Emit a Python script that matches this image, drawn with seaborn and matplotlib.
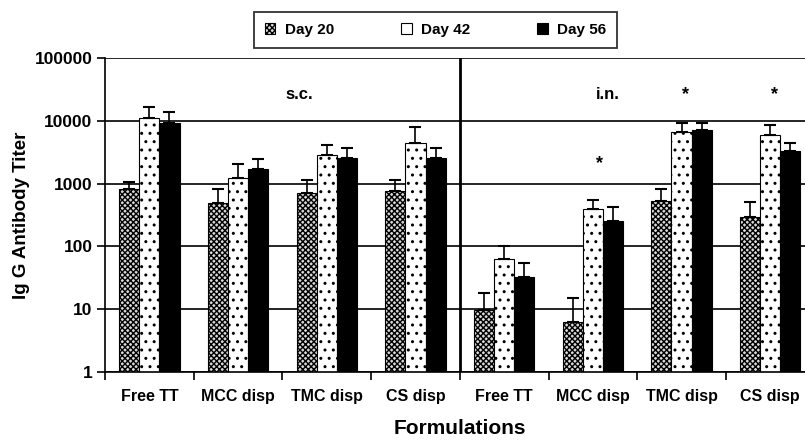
import numpy as np
import pandas as pd
import matplotlib.pyplot as plt
import seaborn as sns
from matplotlib.patches import Patch

# values
formulations = ["Free TT", "MCC disp", "TMC disp", "CS disp",
                "Free TT", "MCC disp", "TMC disp", "CS disp"]
routes = ["s.c."] * 4 + ["i.n."] * 4
days = ["Day 20", "Day 42", "Day 56"]

day20 = [835, 494, 714, 776, 9.8, 6.3, 519, 296]
day42 = [10900, 1220, 2880, 4510, 64, 387, 6680, 6030]
day56 = [9190, 1680, 2550, 2550, 33, 256, 7200, 3330]

day20_err = [1080, 835, 1140, 1140, 18.4, 15.1, 826, 513]
day42_err = [16300, 2040, 4050, 8110, 103, 546, 9060, 8630]
day56_err = [13900, 2450, 3670, 3670, 53.5, 431, 9290, 4470]

star_groups = [5.07, 6.05, 7.05]
star_values = [2090, 25900, 25900]

plt.rcParams["font.family"] = ["Liberation Sans", "DejaVu Sans"]
plt.rcParams["font.weight"] = "bold"
plt.rcParams["hatch.linewidth"] = 1.0

keys = [f"{r} {f}" for r, f in zip(routes, formulations)]
rows = []
for vals, errs, d in [(day20, day20_err, "Day 20"), (day42, day42_err, "Day 42"),
                      (day56, day56_err, "Day 56")]:
    for k, v, e in zip(keys, vals, errs):
        rows.append({"group": k, "day": d, "titer": v, "upper": e})
df = pd.DataFrame(rows)

fig = plt.figure(figsize=(8.05, 4.4), dpi=100)
ax = fig.add_axes([105 / 805, 1 - 372 / 440, 8 * 88.7 / 805, 314 / 440])
ax.set_yscale("log")

sns.barplot(data=df, x="group", y="titer", hue="day", order=keys, hue_order=days,
            palette=["#d8d8d8", "white", "black"], width=0.68, gap=0,
            edgecolor="black", linewidth=0.8, errorbar=None, legend=False, ax=ax)

hatches = ["xxxxxx", "..", ""]
for cont, h, d in zip(ax.containers, hatches, days):
    sub = df[df["day"] == d].set_index("group").loc[keys]
    xs = []
    for bar in cont:
        bar.set_hatch(h)
        xs.append(bar.get_x() + bar.get_width() / 2)
    vals = sub["titer"].values
    upper = sub["upper"].values - vals
    ax.errorbar(xs, vals, yerr=[np.zeros_like(vals), upper], fmt="none",
                ecolor="black", elinewidth=1.2, capsize=4, capthick=1.5, zorder=1)

ax.set_ylim(1, 100000)
ax.set_xlim(-0.5, 7.5)
ax.set_yticks([1, 10, 100, 1000, 10000, 100000])
ax.set_yticklabels(["1", "10", "100", "1000", "10000", "100000"])
ax.yaxis.set_minor_locator(plt.NullLocator())
ax.grid(axis="y", color="black", linewidth=1.2)
ax.set_axisbelow(True)
for s in ["top", "right"]:
    ax.spines[s].set_visible(False)
ax.spines["left"].set_linewidth(1.2)
ax.spines["bottom"].set_linewidth(1.2)

ax.set_xticks(range(8))
ax.set_xticklabels(formulations)
ax.set_xticks(np.arange(-0.5, 8, 1), minor=True)
ax.tick_params(axis="x", which="major", length=0, pad=12, labelsize=11.5)
ax.tick_params(axis="x", which="minor", length=6, width=1.2)
ax.tick_params(axis="y", length=6, width=1.2, labelsize=12.5, pad=3)

ax.axvline(3.5, color="black", linewidth=2)

ax.set_xlabel("Formulations", fontsize=15, fontweight="bold", labelpad=11)
ax.set_ylabel("Ig G Antibody Titer", fontsize=13.5, fontweight="bold", labelpad=3)

ax.text(1.69, 25900, "s.c.", ha="center", va="center", fontsize=12, fontweight="bold")
ax.text(5.17, 25900, "i.n.", ha="center", va="center", fontsize=12, fontweight="bold")
for gx, gy in zip(star_groups, star_values):
    ax.text(gx, gy, "*", ha="center", va="center", fontsize=13, fontweight="bold")

handles = [Patch(facecolor="#d8d8d8", edgecolor="black", hatch="xxxxxx", linewidth=0.8),
           Patch(facecolor="white", edgecolor="black", linewidth=0.8),
           Patch(facecolor="black", edgecolor="black", linewidth=0.8)]
leg = fig.legend(handles, days, loc="center", bbox_to_anchor=(435.5 / 805, 1 - 30 / 440),
                 ncol=3, handlelength=0.7, handleheight=0.7, handletextpad=0.6,
                 columnspacing=4.4, fontsize=11, fancybox=False, borderpad=0.7,
                 borderaxespad=0)
leg.get_frame().set_edgecolor("black")
leg.get_frame().set_linewidth(1.3)

fig.savefig("out.png", dpi=100)
